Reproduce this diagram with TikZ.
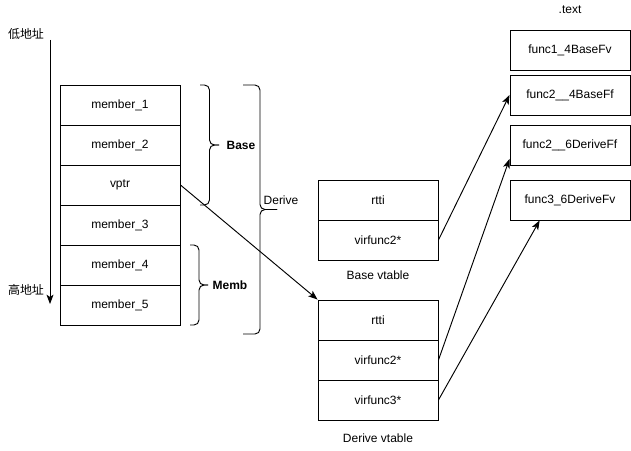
\documentclass[tikz,border=0pt]{standalone}
\usepackage{fontspec}
\setmainfont{Liberation Sans}
\newfontfamily\cjk{Noto Sans CJK SC}
\usetikzlibrary{arrows.meta}

\tikzset{
  cell/.style={draw, line width=0.8pt, minimum width=3.6cm, minimum height=1.2cm, inner sep=0pt},
  brc/.style={line width=0.8pt, rounded corners=0.15cm},
  ptr/.style={-{Stealth[length=8pt,width=6pt,inset=2pt]}, line width=0.8pt}
}
% curly bracket: left x, top y, bottom y, width
\newcommand{\objbrace}[4]{%
  \draw[brc] (#1,#2) -- ({#1+#4/2},#2) -- ({#1+#4/2},{(#2+#3)/2}) -- ({#1+#4},{(#2+#3)/2});
  \draw[brc] ({#1+#4},{(#2+#3)/2}) -- ({#1+#4/2},{(#2+#3)/2}) -- ({#1+#4/2},#3) -- (#1,#3);
}

\begin{document}
\begin{tikzpicture}[x=0.03cm, y=-0.03cm, font=\fontsize{10.24}{12}\selectfont]
        \useasboundingbox (0,0) rectangle (631,451);
        % address direction
        \coordinate (lowaddr) at (50,40);
        \coordinate (highaddr) at (50,304);
        \draw[ptr] (lowaddr) -- (highaddr);
        \node (lolabel) at (26,34) {\cjk 低地址};
        \node (hilabel) at (26,290) {\cjk 高地址};
        % object layout
        \node[cell] (m1) at (120,105) {member\_1};
        \node[cell] (m2) at (120,145) {member\_2};
        \node[cell] (vptr) at (120,185) {vptr};
        \node[cell] (m3) at (120,225) {member\_3};
        \node[cell] (m4) at (120,265) {member\_4};
        \node[cell] (m5) at (120,305) {member\_5};
        \objbrace{200}{85}{205}{19}
        \objbrace{190}{245}{325}{18}
        \objbrace{243}{85}{334}{34}
        \node[font=\fontsize{10.24}{12}\selectfont\bfseries] (base) at (241,145) {Base};
        \node[font=\fontsize{10.24}{12}\selectfont\bfseries] (memb) at (230,285) {Memb};
        \node (derive) at (281,200) {Derive};
        % vtables
        \node[cell] (bv1) at (378,200) {rtti};
        \node[cell] (bv2) at (378,240) {virfunc2*};
        \node (bvlabel) at (378,275) {Base vtable};
        \node[cell] (dv1) at (378,320) {rtti};
        \node[cell] (dv2) at (378,360) {virfunc2*};
        \node[cell] (dv3) at (378,400) {virfunc3*};
        \node (dvlabel) at (378,438) {Derive vtable};
        % .text section
        \node (textlabel) at (570,10) {.text};
        \node[cell] (f1) at (570,50) {func1\_4BaseFv};
        \node[cell] (f2) at (570,95) {func2\_\_4BaseFf};
        \node[cell] (f3) at (570,145) {func2\_\_6DeriveFf};
        \node[cell] (f4) at (570,200) {func3\_6DeriveFv};
        % pointers
        \draw[ptr] (vptr.east) -- (dv1.north west);
        \draw[ptr] (bv2.east) -- (f2.west);
        \draw[ptr] (dv2.east) -- (f3.193);
        \draw[ptr] (dv3.east) -- (f4.214);
      \end{tikzpicture}
\end{document}
